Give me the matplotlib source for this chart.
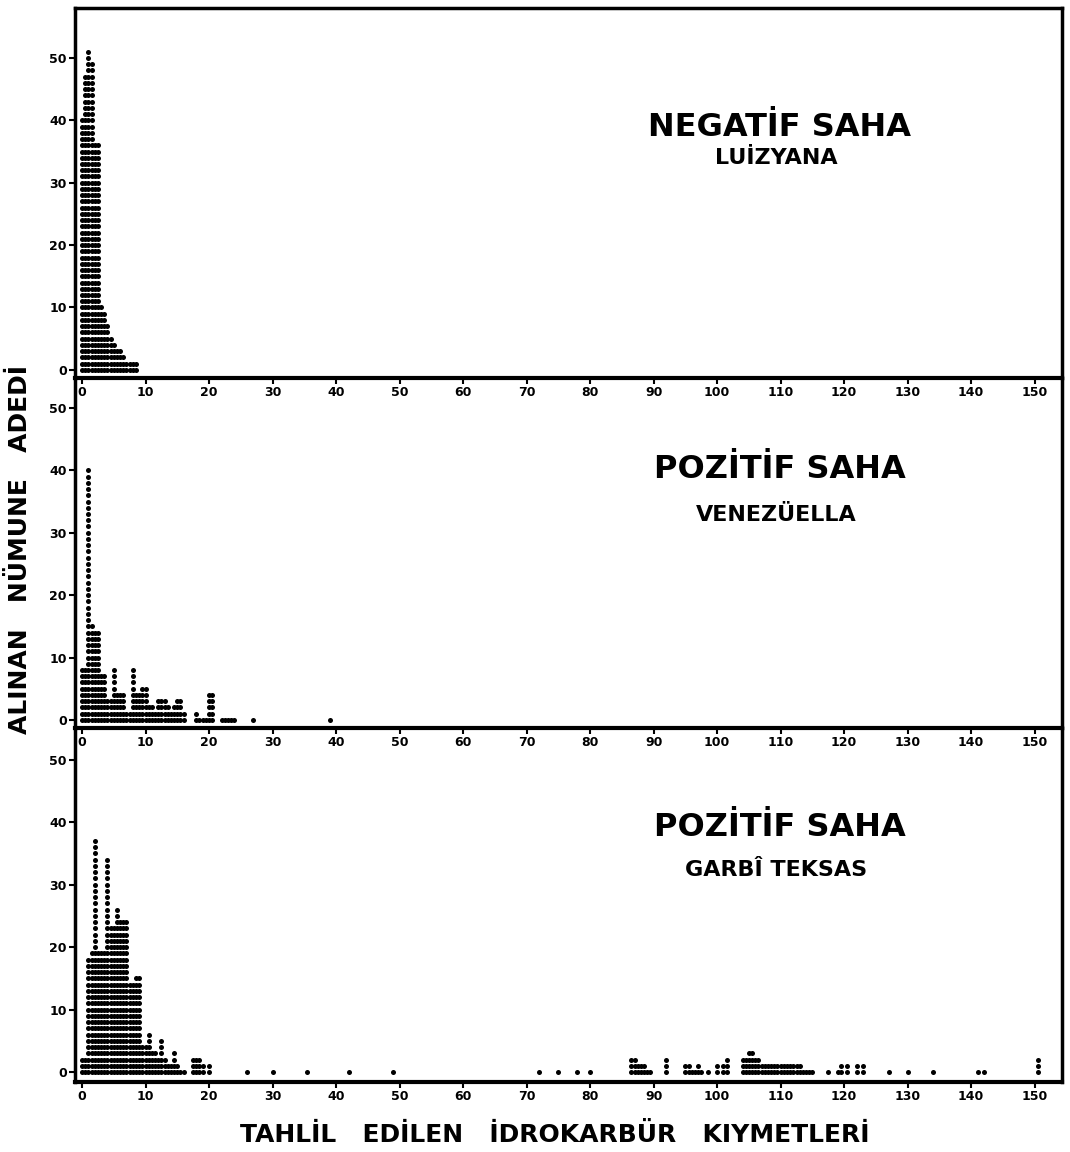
import matplotlib.pyplot as plt
import numpy as np

plt.rcParams['font.family'] = ['Liberation Sans Narrow', 'DejaVu Sans']
plt.rcParams['font.weight'] = 'bold'

# column positions (hydrocarbon value) and column tops (number of samples)
luiz_x = [0, 0.5, 1, 1.5, 2, 2.5, 3, 3.5, 4, 4.5, 5, 5.5, 6, 6.5, 7, 7.5, 8, 8.5]
luiz_h = [40, 47, 51, 49, 36, 36, 10, 9, 7, 5, 4, 3, 3, 2, 1, 1, 1, 1]

vene_x = [0, 0.5, 1, 1.5, 2, 2.5, 3, 3.5, 4, 4.5, 5, 5.5, 6, 6.5, 7, 7.5,
          8, 8.5, 9, 9.5, 10, 10.5, 11, 11.5, 12, 12.5, 13, 13.5, 14, 14.5,
          15, 15.5, 16, 18, 18.5, 19, 19.5, 20, 20.5, 22, 22.5, 23, 23.5, 24,
          27, 39]
vene_h = [8, 8, 40, 15, 14, 14, 7, 7, 3, 3, 8, 4, 4, 4, 1, 1,
          8, 4, 4, 5, 5, 2, 2, 1, 3, 3, 3, 2, 1, 2,
          3, 3, 1, 1, 0, 0, 0, 4, 4, 0, 0, 0, 0, 0,
          0, 0]

teks_x = [0, 0.5, 1, 1.5, 2, 2.5, 3, 3.5, 4, 4.5, 5, 5.5, 6, 6.5, 7, 7.5,
          8, 8.5, 9, 9.5, 10, 10.5, 11, 11.5, 12, 12.5, 13, 13.5, 14, 14.5,
          15, 15.5, 16, 17.5, 18, 18.5, 19, 20,
          26, 30, 35.5, 42, 49, 72, 75, 78, 80,
          86.5, 87, 87.5, 88, 88.5, 89, 89.5, 92, 95, 95.5, 96, 96.5, 97, 97.5,
          98.5, 100, 101, 101.5, 104, 104.5, 105, 105.5, 106, 106.5, 107,
          107.5, 108, 108.5, 109, 109.5, 110, 110.5, 111, 111.5, 112, 112.5,
          113, 113.5, 114, 114.5, 115, 117.5, 119, 119.5, 120.5, 122, 123,
          127, 130, 134, 141, 142, 150.5]
teks_h = [2, 2, 18, 19, 37, 19, 19, 19, 34, 23, 23, 26, 24, 24, 24, 14,
          14, 15, 15, 4, 4, 6, 3, 3, 2, 5, 2, 1, 1, 3,
          1, 0, 0, 2, 2, 2, 1, 1,
          0, 0, 0, 0, 0, 0, 0, 0, 0,
          2, 2, 1, 1, 1, 0, 0, 2, 1, 1, 0, 0, 1, 0,
          0, 1, 1, 2, 2, 2, 3, 3, 2, 2, 1,
          1, 1, 1, 1, 1, 1, 1, 1, 1, 1, 1,
          1, 0, 0, 0, 0, 0, 0, 1, 1, 1, 1,
          0, 0, 0, 0, 0, 2]

panels = [
    (luiz_x, luiz_h, "NEGATİF SAHA", "LUİZYANA"),
    (vene_x, vene_h, "POZİTİF SAHA", "VENEZÜELLA"),
    (teks_x, teks_h, "POZİTİF SAHA", "GARBÎ TEKSAS"),
]
yticks = [0, 10, 20, 30, 40, 50]
xticks = list(range(0, 151, 10))

fig = plt.figure(figsize=(10.7, 11.52), dpi=100)
W, H = 1070.0, 1152.0
# (top pixel, bottom pixel, ymin, ymax) of each panel
boxes = [(8, 378, -1.3, 58.0), (378, 728, -1.3, 54.8), (728, 1082, -1.6, 55.1)]
left, right = 75, 1062

for i, ((xs, hs, t1, t2), (top, bot, y0, y1)) in enumerate(zip(panels, boxes)):
    ax = fig.add_axes([left / W, 1 - bot / H, (right - left) / W, (bot - top) / H])
    ax.patch.set_visible(False)
    px, py = [], []
    for x, h in zip(xs, hs):
        for k in range(h + 1):
            px.append(x)
            py.append(k)
    ax.scatter(px, py, s=13, color='black', marker='o', linewidths=0, clip_on=False)
    ax.set_xlim(-1.1, 154.3)
    ax.set_ylim(y0, y1)
    ax.set_yticks(yticks)
    ax.set_xticks(xticks)
    ax.tick_params(axis='both', direction='out', length=4, width=1.5,
                   labelsize=9, pad=2)
    for lab in ax.get_xticklabels() + ax.get_yticklabels():
        lab.set_fontweight('bold')
    for s in ['left', 'bottom', 'right']:
        ax.spines[s].set_linewidth(2.5)
    ax.spines['bottom'].set_linewidth(3)
    ax.spines['top'].set_visible(i == 0)
    ax.spines['top'].set_linewidth(2.5)
    cy = [(128, 158), (470, 515), (828, 870)][i]
    fig.text(780 / W, 1 - cy[0] / H, t1, ha='center', va='center',
             fontsize=23, fontweight='bold')
    fig.text(776 / W, 1 - cy[1] / H, t2, ha='center', va='center',
             fontsize=16, fontweight='bold')

fig.text(20 / W, 1 - 550 / H, "ALINAN   NÜMUNE   ADEDİ", rotation=90,
         ha='center', va='center', fontsize=18, fontweight='bold',
         family=['DejaVu Sans'])
fig.text(555 / W, 1 - 1135 / H, "TAHLİL   EDİLEN   İDROKARBÜR   KIYMETLERİ",
         ha='center', va='center', fontsize=18, fontweight='bold',
         family=['DejaVu Sans'])

fig.savefig("out.png", dpi=100)
